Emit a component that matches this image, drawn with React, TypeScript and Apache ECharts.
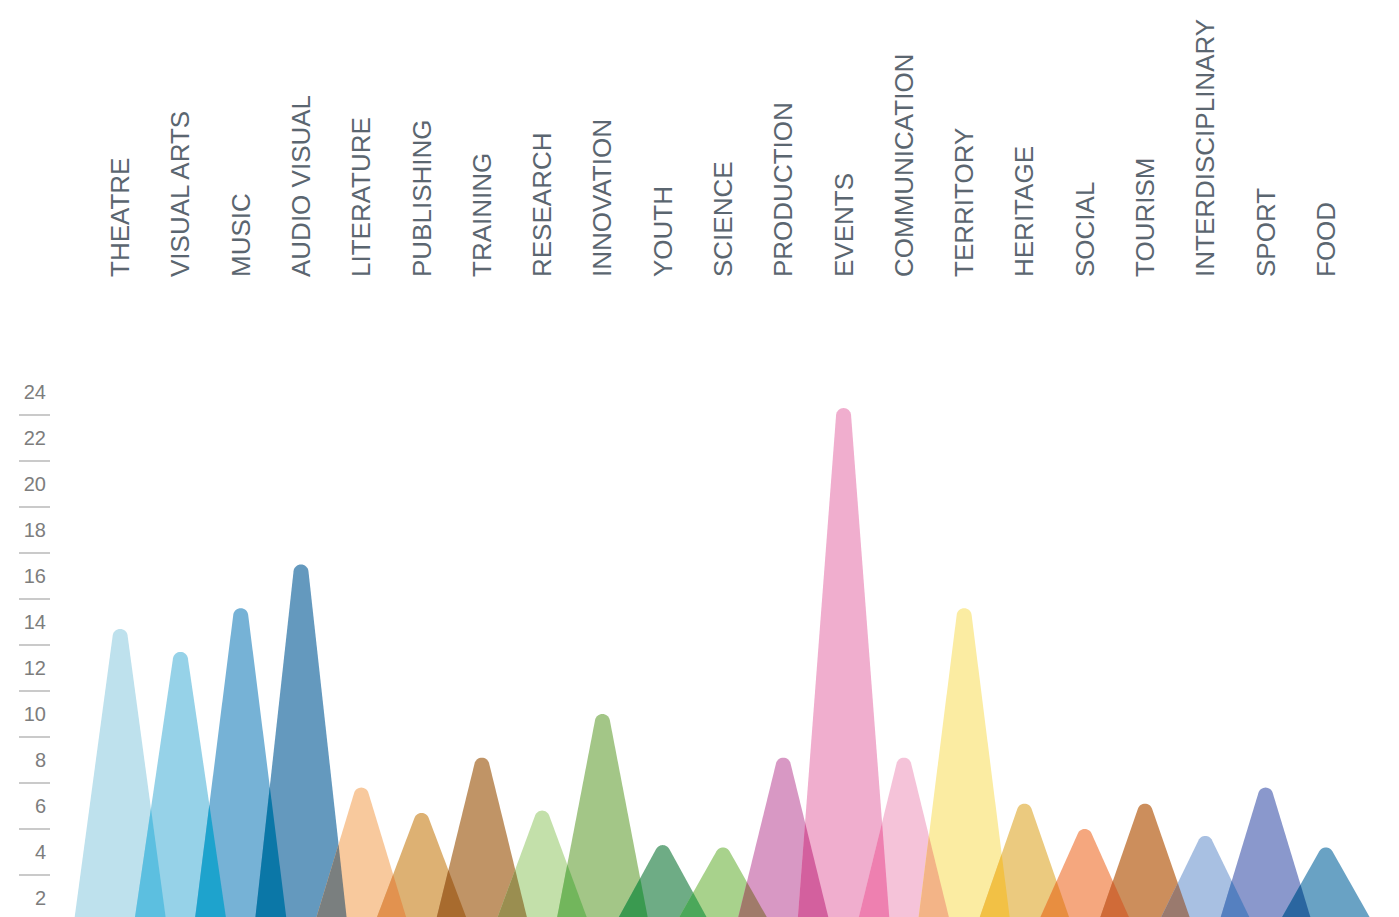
import React, { useEffect, useRef } from "react";
import * as echarts from "echarts";

// ---- data ----
const CATEGORIES = [
  "THEATRE", "VISUAL ARTS", "MUSIC", "AUDIO VISUAL", "LITERATURE", "PUBLISHING",
  "TRAINING", "RESEARCH", "INNOVATION", "YOUTH", "SCIENCE", "PRODUCTION", "EVENTS",
  "COMMUNICATION", "TERRITORY", "HERITAGE", "SOCIAL", "TOURISM", "INTERDISCIPLINARY",
  "SPORT", "FOOD",
];
const VALUES = [
  13.7, 12.7, 14.6, 16.5, 6.8, 5.7, 8.1, 5.8, 10, 4.3, 4.2, 8.1, 23.3, 8.1, 14.6,
  6.1, 5, 6.1, 4.7, 6.8, 4.2,
];
const Y_MIN = 0;
const Y_MAX = 24;
const Y_STEP = 2;
const BASE_VALUE = 1;

// ---- styles ----
const COLORS = [
  "#bee1ed", "#96d2e8", "#76b2d6", "#6499be", "#f8c99d", "#ddb173", "#c09466",
  "#c3e0aa", "#a3c687", "#6eac85", "#a8d28c", "#d898c4", "#f0aece", "#f5c3d9",
  "#fbeca2", "#ebca7f", "#f5a77e", "#cc8e5c", "#a8c0e2", "#8a98cc", "#69a2c4",
];
const OVERLAP_COLORS = [
  "#5cbfe0", "#1ea3cd", "#0b77a7", "#7a7f7f", "#e2924f", "#a86b2e", "#9a8e50",
  "#72b65c", "#3a9a50", "#4ba85a", "#a07b6a", "#d3609e", "#ee80b0", "#f3b487",
  "#f2c145", "#e88e40", "#d06b38", "#9a7a6e", "#5580c0", "#2a66a0",
];
const HALF_BASE = 46;
const TIP_R = 7.5;
const FONT = "'Liberation Sans', Arial, Helvetica, sans-serif";

function peakShape(cx: number, yTop: number, yBase: number, hw: number, r: number) {
  const cy = yTop + r;
  const dx = -hw;
  const dy = yBase - cy;
  const L = Math.hypot(dx, dy);
  const phi = Math.atan2(dy, dx);
  const alpha = Math.acos(Math.min(1, r / L));
  const aL = phi + alpha;
  const aR = 3 * Math.PI - aL;
  const arc: number[][] = [];
  const N = 16;
  for (let k = 0; k <= N; k++) {
    const a = aL + ((aR - aL) * k) / N;
    arc.push([cx + r * Math.cos(a), cy + r * Math.sin(a)]);
  }
  return {
    pl: [cx - hw, yBase],
    pr: [cx + hw, yBase],
    tl: arc[0],
    tr: arc[N],
    arc,
  };
}

export default function App() {
  const ref = useRef<HTMLDivElement>(null);

  useEffect(() => {
    if (!ref.current) return;
    const chart = echarts.init(ref.current, undefined, { renderer: "svg" });

    const peakData = VALUES.map((v, i) => [i, v]);
    const overlapData = VALUES.slice(0, -1).map((v, i) => [i, v, VALUES[i + 1]]);

    const option: any = {
      animation: false,
      backgroundColor: "#ffffff",
      grid: [
        { left: 90, width: 1266, top: 392, height: 552 },
        { left: 90, width: 1266, top: 285, height: 10 },
      ],
      xAxis: [
        {
          type: "category",
          gridIndex: 0,
          data: CATEGORIES,
          boundaryGap: true,
          show: false,
        },
        {
          type: "category",
          gridIndex: 1,
          data: CATEGORIES,
          boundaryGap: true,
          position: "top",
          axisLine: { show: false },
          axisTick: { show: false },
          axisLabel: {
            interval: 0,
            rotate: 90,
            margin: 8,
            fontSize: 26,
            fontFamily: FONT,
            color: "#5b6670",
          },
        },
      ],
      yAxis: [
        {
          type: "value",
          gridIndex: 0,
          min: Y_MIN,
          max: Y_MAX,
          interval: Y_STEP,
          position: "left",
          offset: 40,
          axisLine: { show: false },
          axisTick: { show: false },
          minorTick: {
            show: true,
            splitNumber: 2,
            length: 31,
            lineStyle: { color: "#b8b8b8", width: 1.5 },
          },
          splitLine: { show: false },
          axisLabel: {
            margin: 4,
            fontSize: 20,
            fontFamily: FONT,
            color: "#7d7d7d",
            formatter: (v: number) => (v === 0 ? "" : String(v)),
          },
        },
        { type: "value", gridIndex: 1, show: false, min: 0, max: 1 },
      ],
      series: [
        {
          type: "custom",
          xAxisIndex: 0,
          yAxisIndex: 0,
          silent: true,
          z: 2,
          encode: { x: 0, y: 1 },
          data: peakData,
          renderItem: (params: any, api: any) => {
            const i = api.value(0);
            const v = api.value(1);
            const top = api.coord([i, v]);
            const base = api.coord([i, BASE_VALUE]);
            const s = peakShape(top[0], top[1], base[1], HALF_BASE, TIP_R);
            return {
              type: "polygon",
              shape: { points: [s.pl, ...s.arc, s.pr] },
              style: { fill: COLORS[i % COLORS.length] },
            };
          },
        },
        {
          type: "custom",
          xAxisIndex: 0,
          yAxisIndex: 0,
          silent: true,
          z: 3,
          encode: { x: 0, y: [1, 2] },
          data: overlapData,
          renderItem: (params: any, api: any) => {
            const j = api.value(0);
            const v1 = api.value(1);
            const v2 = api.value(2);
            const t1 = api.coord([j, v1]);
            const t2 = api.coord([j + 1, v2]);
            const base = api.coord([j, BASE_VALUE]);
            const yb = base[1];
            const a = peakShape(t1[0], t1[1], yb, HALF_BASE, TIP_R);
            const b = peakShape(t2[0], t2[1], yb, HALF_BASE, TIP_R);
            const sa = (a.pr[0] - a.tr[0]) / (yb - a.tr[1]);
            const sb = (b.tl[0] - b.pl[0]) / (yb - b.tl[1]);
            const h = (a.pr[0] - b.pl[0]) / (sa + sb);
            if (!(h > 0)) return null;
            const x = [b.pl[0] + h * sb, yb - h];
            return {
              type: "polygon",
              shape: { points: [b.pl, x, a.pr] },
              style: { fill: OVERLAP_COLORS[j % OVERLAP_COLORS.length] },
            };
          },
        },
      ],
    };

    chart.setOption(option);
    return () => chart.dispose();
  }, []);

  return (
    <div
      style={{
        position: "absolute",
        left: 0,
        top: 0,
        width: 1399,
        height: 917,
        overflow: "hidden",
        background: "#ffffff",
      }}
    >
      <div ref={ref} style={{ width: 1399, height: 960 }} />
    </div>
  );
}
